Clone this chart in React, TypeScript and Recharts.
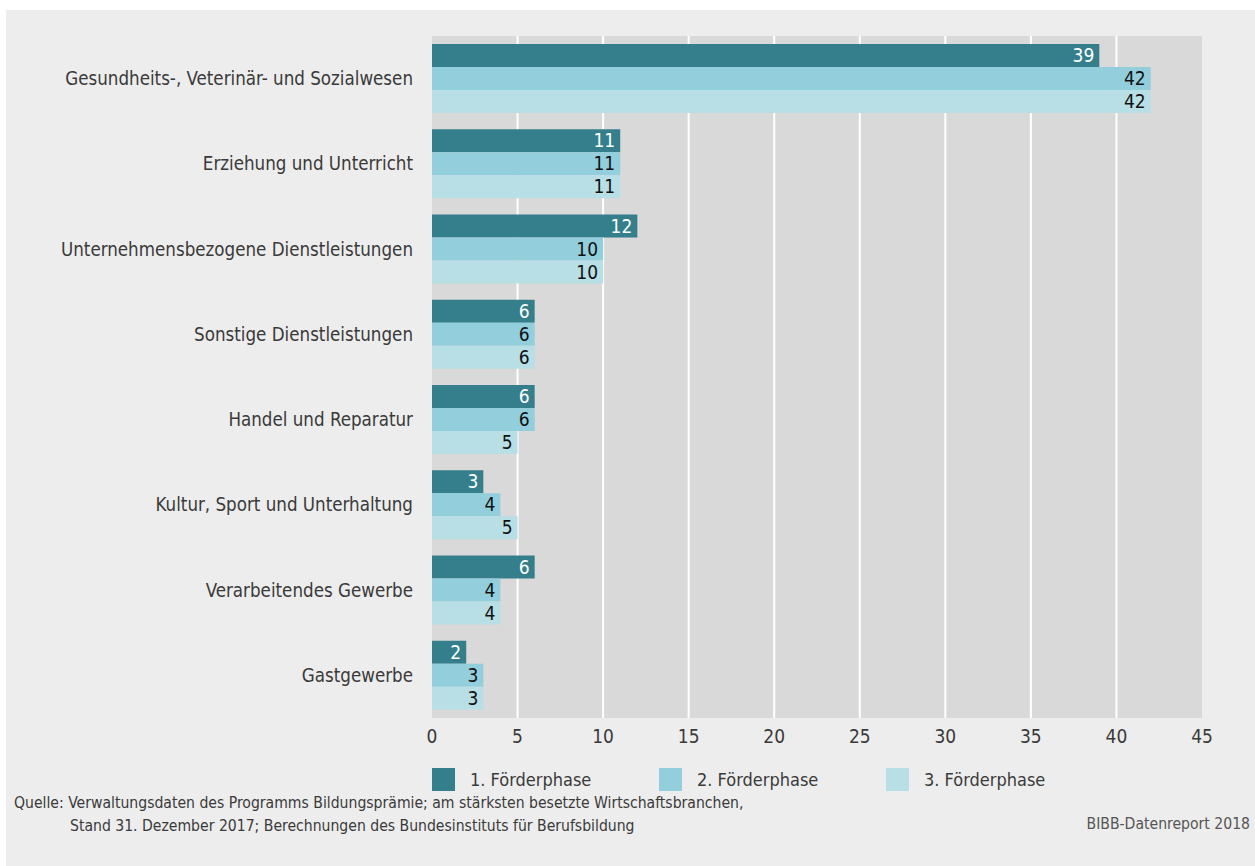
import { BarChart, Bar, XAxis, YAxis, CartesianGrid, Legend, LabelList } from 'recharts';

const CATEGORIES = [
  'Gesundheits-, Veterinär- und Sozialwesen',
  'Erziehung und Unterricht',
  'Unternehmensbezogene Dienstleistungen',
  'Sonstige Dienstleistungen',
  'Handel und Reparatur',
  'Kultur, Sport und Unterhaltung',
  'Verarbeitendes Gewerbe',
  'Gastgewerbe',
];

const PHASE_1 = [39, 11, 12, 6, 6, 3, 6, 2];
const PHASE_2 = [42, 11, 10, 6, 6, 4, 4, 3];
const PHASE_3 = [42, 11, 10, 6, 5, 5, 4, 3];

const SERIES_NAMES = ['1. Förderphase', '2. Förderphase', '3. Förderphase'];
const X_TICKS = [0, 5, 10, 15, 20, 25, 30, 35, 40, 45];
const X_MAX = 45;

const COLORS = ['#347f8b', '#92cedc', '#b8dee6'];
const LABEL_COLORS = ['#ffffff', '#111111', '#111111'];

const FONT = '"DejaVu Sans Condensed", "Roboto", sans-serif';
const TEXT = '#3a3a3a';

const data = CATEGORIES.map((name, i) => ({
  name,
  p1: PHASE_1[i],
  p2: PHASE_2[i],
  p3: PHASE_3[i],
}));

// white gridlines only between the ends of the axis
const gridGenerator = ({ xAxis, offset }: any) => {
  const inner = X_TICKS.slice(1, -1);
  const sc = xAxis && xAxis.scale;
  if (typeof sc === 'function') return inner.map((v) => sc(v));
  if (sc && typeof sc.map === 'function') return inner.map((v) => sc.map(v));
  return inner.map((v) => offset.left + (v / X_MAX) * offset.width);
};

function LegendContent() {
  return (
    <div style={{ display: 'flex', fontFamily: FONT, fontSize: 18, color: TEXT }}>
      {SERIES_NAMES.map((s, i) => (
        <div key={s} style={{ display: 'flex', alignItems: 'center', width: 227 }}>
          <span style={{ width: 23, height: 23, background: COLORS[i], display: 'inline-block', marginRight: 15 }} />
          <span>{s}</span>
        </div>
      ))}
    </div>
  );
}

export default function App() {
  return (
    <div style={{ position: 'absolute', left: 0, top: 0, width: 1255, height: 866, background: '#fff', fontFamily: FONT }}>
      <div style={{ position: 'absolute', left: 6, top: 10, width: 1249, height: 856, background: '#ededed' }} />
      <div style={{ position: 'absolute', left: 0, top: 0 }}>
        <BarChart
          width={1255}
          height={866}
          data={data}
          layout="vertical"
          margin={{ top: 36, right: 53, left: 0, bottom: 85 }}
          barGap={0}
          barCategoryGap={8}
        >
          <CartesianGrid
            horizontal={false}
            stroke="#ffffff"
            strokeWidth={2}
            fill="#d9d9d9"
            verticalCoordinatesGenerator={gridGenerator}
          />
          <XAxis
            type="number"
            domain={[0, X_MAX]}
            ticks={X_TICKS}
            axisLine={false}
            tickLine={false}
            tickMargin={6}
            height={40}
            tick={{ fill: TEXT, fontSize: 19, fontFamily: FONT }}
          />
          <YAxis
            type="category"
            dataKey="name"
            width={432}
            axisLine={false}
            tickLine={false}
            tickMargin={13}
            tick={{ fill: TEXT, fontSize: 18.6, fontFamily: FONT }}
          />
          <Legend
            verticalAlign="bottom"
            content={<LegendContent />}
            wrapperStyle={{ position: 'absolute', left: 432, top: 768, width: 800 }}
          />
          {['p1', 'p2', 'p3'].map((key, i) => (
            <Bar key={key} dataKey={key} name={SERIES_NAMES[i]} fill={COLORS[i]} isAnimationActive={false}>
              <LabelList
                dataKey={key}
                position="insideRight"
                fill={LABEL_COLORS[i]}
                style={{ fontSize: 19, fontFamily: FONT }}
              />
            </Bar>
          ))}
        </BarChart>
      </div>
      <div style={{ position: 'absolute', left: 14, top: 792, fontSize: 15.6, color: TEXT, lineHeight: '23px' }}>
        Quelle: Verwaltungsdaten des Programms Bildungsprämie; am stärksten besetzte Wirtschaftsbranchen,
        <br />
        <span style={{ paddingLeft: 56 }}>Stand 31. Dezember 2017; Berechnungen des Bundesinstituts für Berufsbildung</span>
      </div>
      <div style={{ position: 'absolute', right: 5, top: 815, fontSize: 15.6, color: '#555' }}>BIBB-Datenreport 2018</div>
    </div>
  );
}
